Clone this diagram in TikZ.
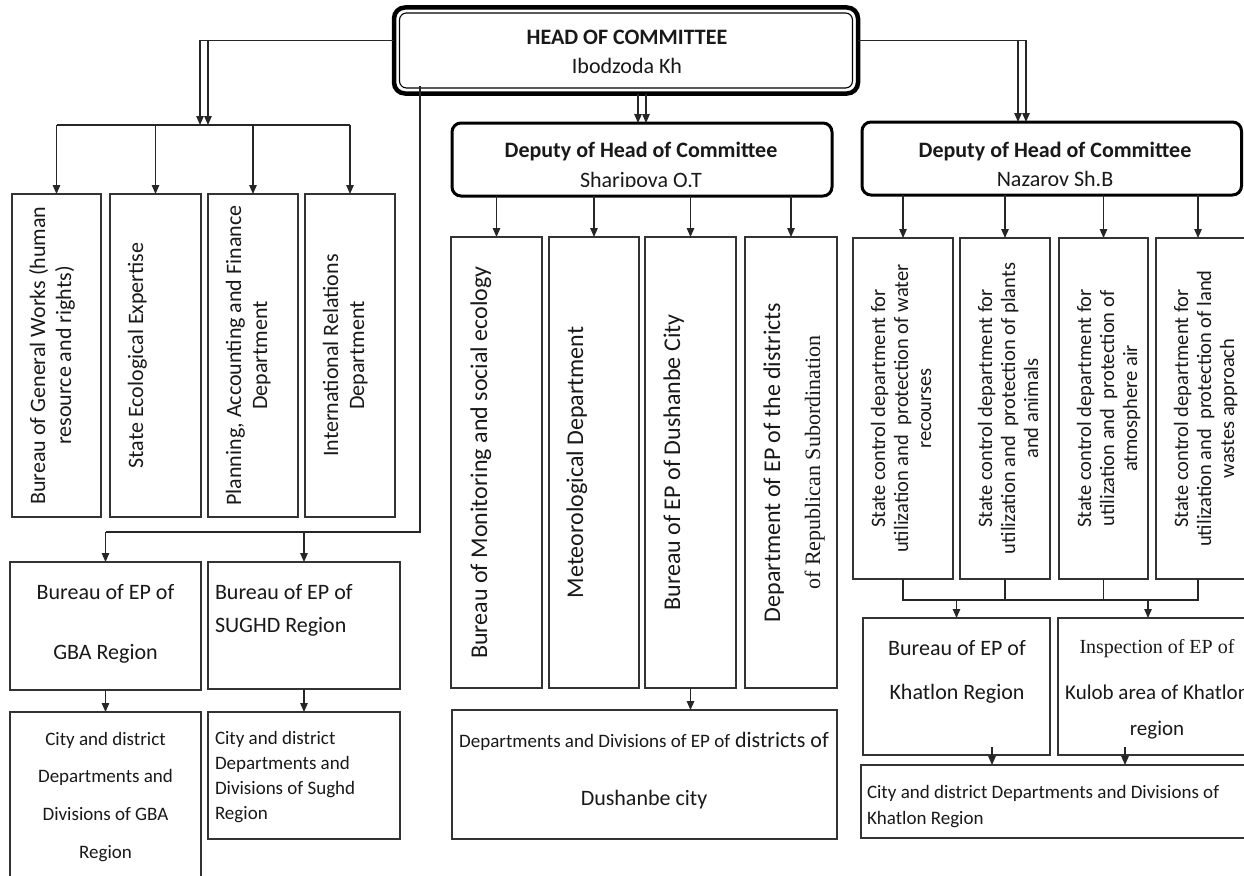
\documentclass[tikz,border=0pt]{standalone}
\usepackage{fontspec}
\usepackage{graphicx}
\setmainfont{Carlito}
\newfontfamily\serifface{Liberation Serif}
\usetikzlibrary{arrows.meta}

% multi-line text blocks, baseline on the first line
\newcommand\tabt[1]{\begin{tabular}[t]{@{}c@{}}#1\end{tabular}}
\newcommand\tabl[1]{\begin{tabular}[t]{@{}l@{}}#1\end{tabular}}
\newcommand\fs[2]{\fontsize{#1}{#2}\selectfont}
% rectangle node from corner coordinates: [opts]{name}{x1}{y1}{x2}{y2}{text}
\newcommand\bx[7][]{%
  \pgfmathsetmacro\bxw{#5-#3}\pgfmathsetmacro\bxh{#6-#4}%
  \node[box,#1,minimum width=\bxw pt,minimum height=\bxh pt] (#2) at ({(#3+#5)/2},{(#4+#6)/2}) {#7};}

\begin{document}
\begin{tikzpicture}[x=1pt,y=-1pt,
  box/.style={draw=black!80,line width=1.3pt,inner sep=0pt,outer sep=0pt},
  headbox/.style={draw=black,line width=4.5pt,rounded corners=11pt},
  depbox/.style={draw=black,line width=3pt,rounded corners=9pt},
  ln/.style={draw=black!85,line width=1.2pt},
  arr/.style={ln,-{Triangle[length=9pt,width=7.5pt]}},
  txt/.style={inner sep=0pt,outer sep=0pt,text=black!90},
  vtxt/.style={txt,rotate=90,anchor=base},
]
\useasboundingbox (0,0) rectangle (1244,875);
\clip (0,0) rectangle (1244,875);
\fill[white] (0,0) rectangle (1244,875);

% ---------- head ----------
\bx[headbox]{head}{394}{7.5}{858}{93.5}{}
\draw[line width=1.1pt,rounded corners=7pt] ([shift={(5.5,5.5)}]head.north west) rectangle ([shift={(-5.5,-5.5)}]head.south east);
\node[txt,anchor=base,font=\fs{22}{29}] (thead) at (627,45) {\tabt{\bfseries HEAD OF COMMITTEE\\Ibodzoda Kh}};

% ---------- deputies ----------
\bx[depbox]{dep1}{452}{123}{832}{196}{}
\bx[depbox]{dep2}{862}{122}{1241.5}{195}{}
\begin{scope}
  \clip (452,123) rectangle (832,186);
  \node[txt,anchor=base,font=\fs{22}{30.5}] (tdep1) at (641,157) {\tabt{\bfseries Deputy of Head of Committee\\Sharipova O.T}};
\end{scope}
\begin{scope}
  \clip (862,122) rectangle (1244,185);
  \node[txt,anchor=base,font=\fs{22}{29}] (tdep2) at (1055,157) {\tabt{\bfseries Deputy of Head of Committee\\Nazarov Sh.B}};
\end{scope}

% ---------- left column of departments ----------
\bx{L1}{12}{194}{101}{517}{}
\bx{L2}{110}{194}{201}{517}{}
\bx{L3}{208}{194}{298}{517}{}
\bx{L4}{305}{194}{395}{517}{}
\node[vtxt,font=\fs{22}{26}] (tL1) at ([xshift=33pt]L1.west) {\tabt{Bureau of General Works (human\\resource and rights)}};
\node[vtxt,font=\fs{22}{26}] (tL2) at ([xshift=33pt]L2.west) {\tabt{State Ecological Expertise}};
\node[vtxt,font=\fs{22}{26}] (tL3) at ([xshift=33pt]L3.west) {\tabt{Planning, Accounting and Finance\\Department}};
\node[vtxt,font=\fs{22}{26}] (tL4) at ([xshift=33pt]L4.west) {\tabt{International Relations\\Department}};

% ---------- regional bureaus ----------
\bx{GBA}{10}{562}{201}{690}{}
\bx{SUGHD}{208}{562}{400}{689}{}
\bx{GBAsub}{10}{712}{201}{890}{}
\bx{SUGHDsub}{208}{712}{400}{839}{}
\node[txt,anchor=base,font=\fs{22}{60}] (tgba) at (105.5,599) {\tabt{Bureau of EP of\\GBA Region}};
\node[txt,anchor=base west,font=\fs{22}{33}] (tsughd) at (215,599) {\tabl{Bureau of EP of\\SUGHD Region}};
\node[txt,anchor=base,font=\fs{19}{37.7}] (tgbasub) at (105.5,745) {\tabt{City and district\\Departments and\\Divisions of GBA\\Region}};
\node[txt,anchor=base west,font=\fs{19}{25.3}] (tsughdsub) at (215,744) {\tabl{City and district\\Departments and\\Divisions of Sughd\\Region}};

% ---------- middle column ----------
\bx{M1}{451}{237}{542}{688}{}
\bx{M2}{549}{237}{639}{688}{}
\bx{M3}{645}{237}{736}{688}{}
\bx{M4}{745}{237}{837}{688}{}
\node[vtxt,font=\fs{24}{27}] (tM1) at ([xshift=36pt]M1.west) {\tabt{Bureau of Monitoring and social ecology}};
\node[vtxt,font=\fs{24}{27}] (tM2) at ([xshift=34pt]M2.west) {\tabt{Meteorological Department}};
\node[vtxt,font=\fs{24}{27}] (tM3) at ([xshift=35pt]M3.west) {\tabt{Bureau of EP of Dushanbe City}};
\node[vtxt,font=\fs{24}{40}] (tM4) at ([xshift=35pt]M4.west) {\tabt{Department of EP of the districts\\{\serifface\fs{22}{40}of Republican Subordination}}};
\bx{Dush}{452}{710}{837}{839}{}
\node[txt,anchor=base,font=\fs{22}{58}] (tdush) at (644,747) {\tabt{{\fs{19}{58}Departments and Divisions of EP of} districts of\\Dushanbe city}};

% ---------- right column ----------
\bx{R1}{853}{238}{953}{579}{}
\bx{R2}{960}{238}{1050}{579}{}
\bx{R3}{1059}{238}{1148}{579}{}
\bx{R4}{1156}{238}{1254}{579}{}
\node[vtxt,font=\fs{20.5}{23}] (tR1) at ([xshift=32pt]R1.west) {\tabt{State control department for\\utilization and~ protection of water\\recourses}};
\node[vtxt,font=\fs{20.5}{23}] (tR2) at ([xshift=32pt]R2.west) {\tabt{State control department for\\utilization and~ protection of plants\\and animals}};
\node[vtxt,font=\fs{20.5}{23}] (tR3) at ([xshift=32pt]R3.west) {\tabt{State control department for\\utilization and~ protection of\\atmosphere air}};
\node[vtxt,font=\fs{20.5}{23}] (tR4) at ([xshift=32pt]R4.west) {\tabt{State control department for\\utilization and~ protection of land\\wastes approach}};
\bx{Khat}{863}{618}{1050}{755}{}
\bx{Kulob}{1058}{618}{1256}{755}{}
\bx{Kbot}{861}{765}{1260}{838}{}
\node[txt,anchor=base,font=\fs{22}{44}] (tkhat) at (957,655) {\tabt{Bureau of EP of\\Khatlon Region}};
\node[txt,anchor=base,font=\fs{21}{36}] (tkulob) at (1157,653) {\tabt{{\serifface\fs{20}{36}Inspection of EP of}\\[10pt]Kulob area of Khatlon\\region}};
\node[txt,anchor=base west,font=\fs{19}{26}] (tkbot) at (867,798) {\tabl{City and district Departments and Divisions of\\Khatlon Region}};

% ---------- connectors: left branch ----------
\path ([yshift=10pt]head.west) coordinate (hw) ([yshift=10pt]head.east) coordinate (he);
\coordinate (la) at (200,125);
\coordinate (lb) at (208,125);
\draw[arr] (hw) -| (la);
\draw[arr] (hw -| lb) -- (lb);
\draw[ln] (L1.north |- la) -- (L4.north |- la);
\foreach \b in {L1,L2,L3,L4} \draw[arr] (\b.north |- la) -- (\b.north);

% head straight down to the regional bureaus
\path ([shift={(26,-7.5)}]head.south west) coordinate (hv);
\path (hv) ++(0,446) coordinate (hvb);
\draw[ln] (hv) |- (GBA.north |- hvb);
\draw[arr] (GBA.north |- hvb) -- (GBA.north);
\draw[arr] (SUGHD.north |- hvb) -- (SUGHD.north);
\draw[arr] (GBA.south) -- (GBAsub.north);
\draw[arr] (SUGHD.south) -- (SUGHDsub.north);

% ---------- connectors: middle branch ----------
\path ([xshift=-4pt]dep1.north) coordinate (d1a) ([xshift=4pt]dep1.north) coordinate (d1b);
\draw[arr] (d1a |- head.south) -- (d1a);
\draw[arr] (d1b |- head.south) -- (d1b);
\foreach \b in {M1,M2,M3,M4} \draw[arr] (\b.north |- dep1.south) -- (\b.north);
\draw[arr] (M3.south) -- (M3.south |- Dush.north);

% ---------- connectors: right branch ----------
\path ([xshift=-33.75pt]dep2.north) coordinate (d2a) ([xshift=-25.75pt]dep2.north) coordinate (d2b);
\draw[arr] (he) -| (d2b);
\draw[arr] (he -| d2a) -- (d2a);
\path ([xshift=-7pt]R4.north) coordinate (r4n) ([xshift=-7pt]R4.south) coordinate (r4s);
\foreach \b in {R1,R2,R3} \draw[arr] (\b.north |- dep2.south) -- (\b.north);
\draw[arr] (r4n |- dep2.south) -- (r4n);
\path (R1.south) ++(0,21) coordinate (rb);
\draw[ln] (R1.south) |- (r4s |- rb) -- (r4s);
\draw[ln] (R2.south) -- (R2.south |- rb);
\draw[ln] (R3.south) -- (R3.south |- rb);
\path ([xshift=-9pt]Kulob.north) coordinate (kun);
\draw[arr] (Khat.north |- rb) -- (Khat.north);
\draw[arr] (kun |- rb) -- (kun);
\path ([shift={(35.5,-8)}]Khat.south) coordinate (ka) ([shift={(-32,-8)}]Kulob.south) coordinate (kb);
\draw[arr] (ka) -- (ka |- Kbot.north);
\draw[arr] (kb) -- (kb |- Kbot.north);
\end{tikzpicture}
\end{document}
